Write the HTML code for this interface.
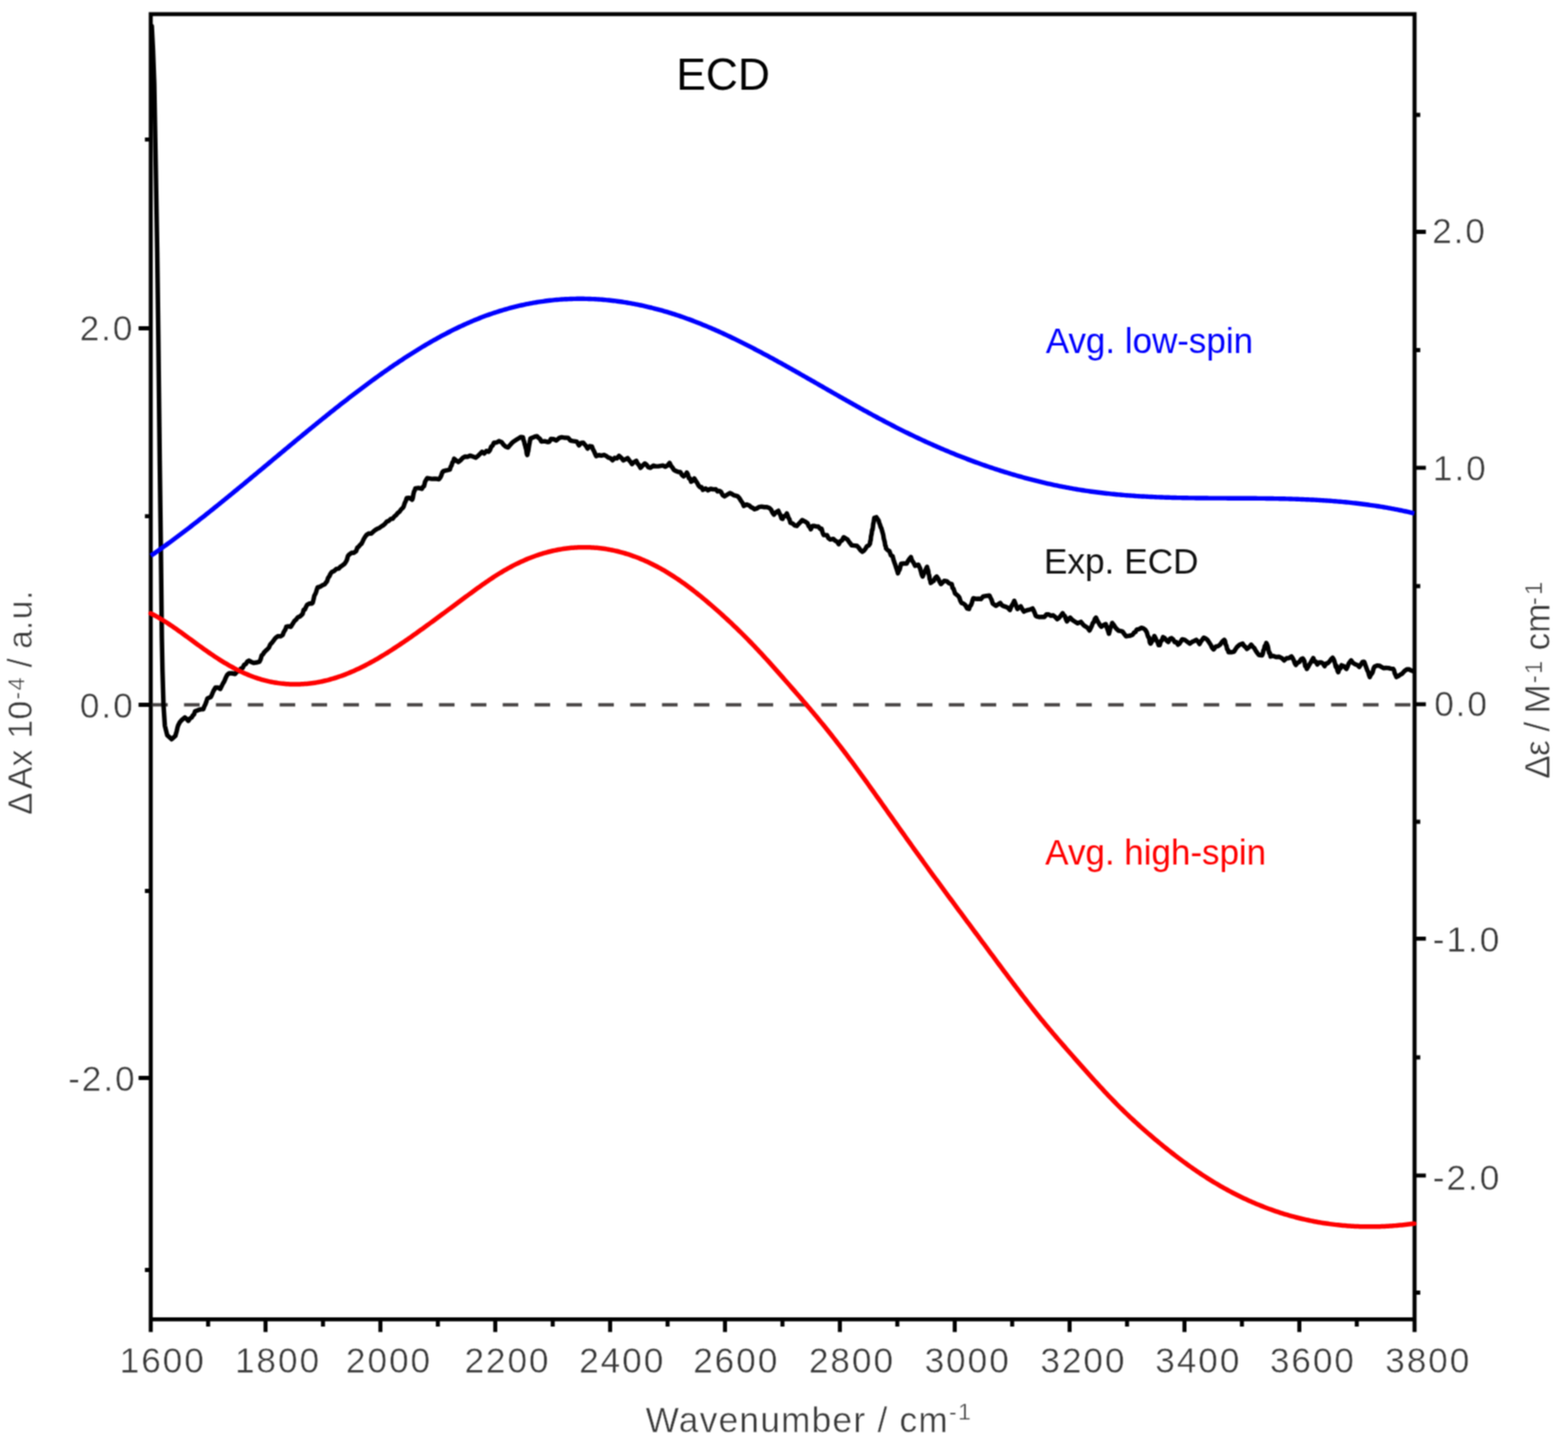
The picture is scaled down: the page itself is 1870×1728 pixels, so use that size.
<!DOCTYPE html>
<html><head><meta charset="utf-8"><title>ECD spectra</title>
<style>html,body{margin:0;padding:0;background:#fff;width:1870px;height:1728px;overflow:hidden}svg{display:block}text{font-family:"Liberation Sans",Arial,Helvetica,sans-serif}.g{fill:#383838;stroke:#fff;stroke-width:0.5px}</style></head><body>
<svg width="1870" height="1728" viewBox="0 0 1870 1728" xmlns="http://www.w3.org/2000/svg">
<defs><filter id="soft" x="0" y="0" width="1870" height="1728" filterUnits="userSpaceOnUse" color-interpolation-filters="sRGB"><feConvolveMatrix order="3" kernelMatrix="1 2 1 2 4 2 1 2 1" divisor="16" edgeMode="duplicate"/></filter></defs>
<g filter="url(#soft)">
<rect width="1870" height="1728" fill="#fff"/>
<path d="M177.40,16.90 H1689.40 M177.40,1573.40 H1689.40 M179.80,16.90 V1573.40 M1687.00,16.90 V1573.40 M179.80,1573.40 V1588.40 M248.20,1573.40 V1581.90 M316.69,1573.40 V1588.40 M385.19,1573.40 V1581.90 M453.68,1573.40 V1588.40 M522.18,1573.40 V1581.90 M590.67,1573.40 V1588.40 M659.17,1573.40 V1581.90 M727.66,1573.40 V1588.40 M796.16,1573.40 V1581.90 M864.65,1573.40 V1588.40 M933.15,1573.40 V1581.90 M1001.65,1573.40 V1588.40 M1070.14,1573.40 V1581.90 M1138.64,1573.40 V1588.40 M1207.13,1573.40 V1581.90 M1275.63,1573.40 V1588.40 M1344.12,1573.40 V1581.90 M1412.62,1573.40 V1588.40 M1481.11,1573.40 V1581.90 M1549.61,1573.40 V1588.40 M1618.10,1573.40 V1581.90 M1687.00,1573.40 V1588.40 M165.30,391.50 H179.80 M165.30,840.50 H179.80 M165.30,1285.50 H179.80 M172.80,166.40 H179.80 M172.80,615.60 H179.80 M172.80,1062.50 H179.80 M172.80,1514.50 H179.80 M1687.00,276.50 H1700.50 M1687.00,557.80 H1700.50 M1687.00,839.80 H1700.50 M1687.00,1119.30 H1700.50 M1687.00,1401.90 H1700.50 M1687.00,137.00 H1693.80 M1687.00,417.50 H1693.80 M1687.00,699.00 H1693.80 M1687.00,980.00 H1693.80 M1687.00,1261.00 H1693.80 M1687.00,1541.50 H1693.80" fill="none" stroke="#000" stroke-width="4.80" stroke-linecap="butt"/>
<path d="M181.5,840.5 H1684.5" stroke="#474444" stroke-width="4" stroke-dasharray="18.6 19.4" fill="none"/>
<path d="M181.00,31.00 L182.50,60.00 L184.00,100.00 L185.80,200.00 L187.50,300.00 L188.80,400.00 L190.50,550.00 L191.80,650.00 L193.00,760.00 L193.80,800.50 L195.00,841.00 L196.60,865.30 L199.40,876.70 L204.70,881.60 L209.20,877.50 L210.00,874.45 L210.80,871.67 L211.60,868.10 L212.40,865.30 L214.45,861.30 L216.50,858.90 L220.50,855.60 L222.55,857.24 L224.60,859.70 L226.60,856.76 L228.60,855.60 L229.97,853.22 L231.33,851.94 L232.70,848.30 L236.70,846.70 L239.55,845.86 L242.40,845.90 L243.60,842.49 L244.80,840.20 L246.05,837.04 L247.30,833.00 L251.30,831.30 L252.40,829.19 L253.50,826.53 L254.60,824.00 L257.00,820.00 L259.85,819.96 L262.70,821.60 L264.30,818.32 L265.90,815.10 L267.50,812.48 L269.10,808.60 L271.15,804.59 L273.20,803.00 L276.85,802.99 L280.50,803.80 L282.90,800.44 L285.30,800.50 L287.35,797.34 L289.40,796.50 L291.27,792.67 L293.15,791.94 L295.02,788.83 L296.90,787.80 L299.70,789.44 L302.50,790.60 L305.95,790.04 L309.40,789.20 L310.80,786.23 L312.20,781.33 L313.60,780.32 L315.00,778.00 L316.87,776.12 L318.73,774.44 L320.60,772.50 L322.43,768.36 L324.27,766.54 L326.10,764.20 L327.97,761.45 L329.83,759.74 L331.70,758.60 L334.45,758.85 L337.20,757.20 L338.25,754.05 L339.30,752.32 L340.35,750.72 L341.40,747.50 L344.15,746.97 L346.90,747.50 L348.30,745.10 L349.70,743.00 L351.10,740.60 L353.18,738.91 L355.25,736.00 L357.32,735.42 L359.40,733.60 L360.80,732.32 L362.20,727.21 L363.60,726.87 L365.00,723.71 L366.40,721.10 L369.15,719.82 L371.90,719.70 L372.90,718.73 L373.90,714.84 L374.90,710.31 L375.90,708.68 L376.90,706.36 L377.90,702.90 L378.90,700.30 L381.67,699.75 L384.43,697.91 L387.20,696.80 L388.60,694.97 L390.00,693.23 L391.40,688.89 L392.80,687.25 L394.20,684.22 L395.60,682.20 L398.37,680.95 L401.13,678.40 L403.90,678.10 L406.20,675.71 L408.50,674.19 L410.80,672.50 L412.20,670.53 L413.60,667.98 L415.00,662.98 L416.40,661.40 L419.17,659.28 L421.93,659.18 L424.70,657.20 L426.26,652.98 L427.82,651.93 L429.39,649.84 L430.95,648.63 L432.51,645.70 L434.07,642.36 L435.64,639.89 L437.20,637.80 L440.00,636.17 L442.80,636.37 L445.60,633.60 L447.82,631.83 L450.04,630.57 L452.26,629.78 L454.48,627.97 L456.70,626.70 L459.02,624.67 L461.33,622.00 L463.65,621.14 L465.97,618.90 L468.28,618.50 L470.60,615.60 L472.54,614.23 L474.48,611.66 L476.42,610.32 L478.36,607.45 L480.30,605.80 L481.50,603.80 L482.70,599.90 L483.90,597.48 L485.10,594.00 L488.35,593.79 L491.60,595.90 L492.36,593.51 L493.12,588.98 L493.88,585.97 L494.64,584.83 L495.40,582.40 L499.25,581.89 L503.10,583.00 L504.38,580.59 L505.66,579.90 L506.94,574.57 L508.22,572.20 L509.50,570.20 L512.32,570.64 L515.14,571.16 L517.96,570.82 L520.78,571.05 L523.60,571.50 L524.90,569.73 L526.20,567.17 L527.50,563.37 L528.80,561.90 L531.37,561.20 L533.93,560.67 L536.50,560.00 L537.52,556.47 L538.54,555.07 L539.56,551.49 L540.58,550.55 L541.60,547.10 L544.15,549.22 L546.70,551.00 L549.27,548.91 L551.83,546.13 L554.40,544.50 L557.62,544.72 L560.85,543.35 L564.07,544.46 L567.30,545.80 L569.85,543.88 L572.40,541.30 L574.98,538.76 L577.55,540.81 L580.12,537.85 L582.70,538.80 L584.30,536.76 L585.90,532.59 L587.50,531.33 L589.10,527.90 L592.10,527.78 L595.10,526.05 L598.10,527.20 L600.67,530.46 L603.23,532.76 L605.80,533.60 L608.35,530.69 L610.90,527.90 L613.47,525.92 L616.03,524.29 L618.60,522.70 L621.15,521.17 L623.70,521.40 L624.35,525.04 L625.00,526.21 L625.65,529.30 L626.30,531.29 L626.95,534.09 L627.60,536.15 L628.25,541.08 L628.90,542.60 L629.44,539.62 L629.99,537.78 L630.53,534.08 L631.07,530.60 L631.61,528.09 L632.16,525.04 L632.70,522.70 L635.27,521.87 L637.83,520.70 L640.40,520.20 L642.13,522.06 L643.87,523.23 L645.60,526.60 L649.45,526.17 L653.30,527.20 L655.20,526.79 L657.10,523.40 L660.30,523.75 L663.50,525.30 L666.70,522.40 L669.90,521.40 L673.75,522.05 L677.60,522.10 L680.20,525.27 L682.80,525.90 L687.90,526.60 L690.50,531.10 L693.05,528.19 L695.60,527.90 L697.30,530.05 L699.00,532.00 L700.70,534.90 L703.30,532.07 L705.90,532.40 L707.17,535.94 L708.45,538.13 L709.73,541.09 L711.00,543.90 L714.10,542.76 L717.20,543.38 L720.30,542.50 L722.85,543.61 L725.40,545.57 L727.95,546.30 L730.50,548.90 L733.07,546.07 L735.63,546.64 L738.20,543.70 L740.80,545.84 L743.40,548.90 L745.95,547.86 L748.50,546.30 L750.20,548.64 L751.90,550.64 L753.60,553.40 L756.20,550.99 L758.80,549.50 L760.50,552.87 L762.20,554.83 L763.90,557.90 L766.45,555.16 L769.00,552.70 L771.17,554.45 L773.33,557.23 L775.50,557.90 L779.30,555.30 L782.12,556.17 L784.94,556.16 L787.76,555.57 L790.58,555.10 L793.40,556.60 L796.00,555.20 L798.60,552.10 L800.30,555.74 L802.00,557.51 L803.70,560.40 L806.27,561.75 L808.83,562.84 L811.40,563.00 L813.30,566.30 L815.20,568.10 L817.15,566.68 L819.10,563.60 L820.38,565.91 L821.65,570.41 L822.93,570.65 L824.20,574.50 L826.15,573.38 L828.10,570.70 L829.80,573.39 L831.50,575.99 L833.20,579.14 L834.90,581.04 L836.60,580.92 L838.30,584.20 L841.38,582.54 L844.46,584.66 L847.54,582.87 L850.62,583.63 L853.70,583.50 L855.76,585.94 L857.82,585.38 L859.88,586.64 L861.94,590.45 L864.00,591.90 L867.20,589.99 L870.40,588.00 L872.72,589.06 L875.04,590.59 L877.36,591.07 L879.68,591.76 L882.00,594.40 L883.70,597.25 L885.40,599.53 L887.10,603.40 L890.30,601.62 L893.50,602.80 L895.63,604.76 L897.77,605.74 L899.90,607.30 L902.50,606.37 L905.10,604.70 L908.30,604.13 L911.50,604.76 L914.70,604.78 L917.90,606.00 L919.60,607.77 L921.30,611.31 L923.00,613.70 L925.60,610.75 L928.20,609.20 L929.48,611.92 L930.75,614.31 L932.02,618.22 L933.30,618.80 L935.00,615.41 L936.70,615.33 L938.40,612.40 L939.45,615.07 L940.50,617.89 L941.55,619.35 L942.60,623.40 L945.17,624.25 L947.73,626.60 L950.30,627.20 L952.43,624.79 L954.57,622.61 L956.70,620.20 L959.90,621.84 L963.10,624.00 L964.40,627.41 L965.70,628.71 L967.00,631.10 L968.90,627.17 L970.80,627.20 L973.37,627.88 L975.93,628.03 L978.50,631.10 L979.80,630.51 L981.10,635.29 L982.40,638.10 L986.20,638.10 L988.15,641.90 L990.10,643.30 L993.90,642.60 L996.03,644.78 L998.17,645.81 L1000.30,649.00 L1002.23,645.39 L1004.17,644.48 L1006.10,640.70 L1010.60,643.30 L1012.30,645.78 L1014.00,648.01 L1015.70,650.30 L1018.90,650.60 L1022.10,651.00 L1024.27,653.37 L1026.43,656.39 L1028.60,658.00 L1030.38,656.58 L1032.16,654.35 L1033.94,651.30 L1035.72,650.78 L1037.50,648.40 L1037.93,645.22 L1038.37,644.25 L1038.80,639.56 L1039.23,638.01 L1039.67,635.56 L1040.10,631.81 L1040.53,631.98 L1040.97,629.18 L1041.40,624.88 L1041.83,623.43 L1042.27,620.51 L1042.70,617.60 L1045.25,616.85 L1047.80,620.80 L1048.65,623.59 L1049.50,625.88 L1050.35,628.57 L1051.20,630.10 L1052.05,633.39 L1052.90,636.20 L1053.46,638.61 L1054.01,642.41 L1054.57,644.22 L1055.13,646.48 L1055.69,650.43 L1056.24,651.13 L1056.80,654.20 L1058.72,656.10 L1060.65,657.06 L1062.58,662.36 L1064.50,663.20 L1065.30,666.63 L1066.10,669.15 L1066.90,671.49 L1067.70,673.55 L1068.50,676.21 L1069.30,678.35 L1070.10,680.95 L1070.90,683.70 L1071.88,680.85 L1072.85,679.26 L1073.83,675.50 L1074.80,672.10 L1078.00,672.05 L1081.20,672.10 L1082.90,669.01 L1084.60,666.40 L1086.30,664.40 L1087.58,668.42 L1088.85,670.01 L1090.12,672.19 L1091.40,674.70 L1095.30,673.40 L1096.32,675.91 L1097.34,678.04 L1098.36,681.80 L1099.38,685.47 L1100.40,687.50 L1101.70,684.27 L1103.00,681.55 L1104.30,678.68 L1105.60,676.00 L1106.23,678.84 L1106.86,680.05 L1107.49,684.02 L1108.11,686.20 L1108.74,690.51 L1109.37,691.76 L1110.00,695.20 L1111.78,693.79 L1113.55,692.72 L1115.32,689.14 L1117.10,687.50 L1118.80,689.96 L1120.50,693.67 L1122.20,696.50 L1124.15,694.60 L1126.10,692.70 L1129.10,693.14 L1132.10,695.78 L1135.10,696.70 L1136.07,701.24 L1137.05,701.92 L1138.03,704.69 L1139.00,707.60 L1142.80,710.80 L1144.10,712.63 L1145.40,716.62 L1146.70,719.10 L1148.95,719.75 L1151.20,721.65 L1153.45,725.58 L1155.70,726.20 L1156.72,722.83 L1157.74,722.05 L1158.76,719.89 L1159.78,716.19 L1160.80,713.40 L1164.00,714.20 L1167.20,714.00 L1169.80,714.46 L1172.40,711.40 L1176.20,710.62 L1180.00,710.20 L1181.30,712.87 L1182.60,715.38 L1183.90,719.80 L1187.80,722.40 L1190.35,720.79 L1192.90,719.10 L1195.03,721.93 L1197.17,722.96 L1199.30,723.60 L1201.85,724.70 L1204.40,727.50 L1205.70,724.01 L1207.00,721.60 L1208.30,719.59 L1209.60,716.60 L1210.87,719.62 L1212.13,723.19 L1213.40,726.20 L1217.30,723.00 L1219.20,726.47 L1221.10,729.40 L1223.67,728.18 L1226.25,727.46 L1228.83,726.74 L1231.40,725.60 L1232.68,727.92 L1233.95,730.85 L1235.22,734.48 L1236.50,735.20 L1239.50,735.93 L1242.50,735.65 L1245.50,735.80 L1248.05,732.68 L1250.60,732.60 L1253.17,734.40 L1255.75,733.75 L1258.33,735.68 L1260.90,738.40 L1263.03,736.80 L1265.17,734.30 L1267.30,731.30 L1268.60,733.59 L1269.90,734.61 L1271.20,738.24 L1272.50,741.00 L1274.40,738.14 L1276.30,736.50 L1278.85,739.32 L1281.40,741.00 L1285.25,743.33 L1289.10,741.60 L1291.05,744.05 L1293.00,746.10 L1295.13,747.33 L1297.27,748.91 L1299.40,751.90 L1300.68,749.28 L1301.97,746.61 L1303.25,743.16 L1304.53,741.74 L1305.82,738.03 L1307.10,736.50 L1308.70,740.23 L1310.30,742.91 L1311.90,745.65 L1313.50,747.40 L1316.10,745.37 L1318.70,744.20 L1319.65,747.54 L1320.60,749.83 L1321.55,752.48 L1322.50,755.70 L1323.28,752.83 L1324.06,749.41 L1324.84,746.72 L1325.62,746.17 L1326.40,742.90 L1328.10,745.06 L1329.80,747.76 L1331.50,749.90 L1334.05,752.10 L1336.60,752.50 L1338.73,753.07 L1340.87,756.06 L1343.00,758.90 L1345.57,758.42 L1348.13,757.99 L1350.70,757.00 L1352.43,754.53 L1354.17,753.66 L1355.90,750.60 L1358.47,750.36 L1361.03,748.64 L1363.60,749.30 L1365.65,750.81 L1367.70,754.00 L1368.60,757.42 L1369.50,759.82 L1370.40,760.39 L1371.30,766.01 L1372.20,767.50 L1373.70,765.04 L1375.20,762.71 L1376.70,758.50 L1377.97,760.88 L1379.25,763.68 L1380.53,765.66 L1381.80,769.40 L1383.10,769.28 L1384.40,764.44 L1385.70,763.63 L1387.00,759.80 L1389.13,761.15 L1391.27,763.81 L1393.40,765.60 L1395.30,761.85 L1397.20,761.10 L1399.12,762.68 L1401.05,765.84 L1402.98,765.75 L1404.90,768.80 L1406.60,767.63 L1408.30,764.84 L1410.00,762.40 L1413.00,763.16 L1416.00,765.35 L1419.00,767.50 L1421.57,765.59 L1424.13,764.46 L1426.70,763.00 L1428.65,765.07 L1430.60,768.10 L1432.30,764.79 L1434.00,762.69 L1435.70,760.40 L1437.83,761.41 L1439.97,763.11 L1442.10,766.20 L1443.83,768.92 L1445.57,772.53 L1447.30,774.50 L1449.87,771.22 L1452.43,770.70 L1455.00,768.80 L1457.55,765.32 L1460.10,763.00 L1460.95,764.59 L1461.80,768.70 L1462.65,769.93 L1463.50,774.22 L1464.35,774.63 L1465.20,777.80 L1468.45,777.80 L1471.70,777.10 L1473.60,774.00 L1475.50,771.30 L1478.70,768.72 L1481.90,767.50 L1483.63,770.16 L1485.37,771.63 L1487.10,773.90 L1489.65,771.89 L1492.20,768.80 L1494.00,771.20 L1495.80,772.70 L1497.60,776.03 L1499.40,778.61 L1501.20,781.00 L1505.00,781.60 L1505.87,780.00 L1506.73,775.85 L1507.60,774.16 L1508.47,770.18 L1509.33,769.85 L1510.20,766.80 L1511.05,768.51 L1511.90,770.54 L1512.75,774.80 L1513.60,778.53 L1514.45,778.84 L1515.30,782.90 L1518.50,782.22 L1521.70,783.50 L1525.80,783.30 L1528.65,784.78 L1531.50,787.60 L1534.40,784.98 L1537.30,784.74 L1540.20,782.80 L1541.53,784.60 L1542.85,787.20 L1544.17,790.90 L1545.50,792.90 L1547.55,790.30 L1549.60,789.44 L1551.65,786.25 L1553.70,785.20 L1554.66,786.61 L1555.62,788.55 L1556.58,794.38 L1557.54,794.91 L1558.50,797.70 L1560.04,795.34 L1561.58,792.51 L1563.12,790.10 L1564.66,787.42 L1566.20,784.80 L1567.80,789.08 L1569.40,789.00 L1571.00,792.50 L1573.40,789.85 L1575.80,790.00 L1577.75,791.29 L1579.70,794.40 L1581.62,791.15 L1583.55,790.97 L1585.48,788.99 L1587.40,786.20 L1589.30,784.30 L1590.26,785.91 L1591.21,787.99 L1592.17,791.39 L1593.13,795.44 L1594.09,794.12 L1595.04,799.60 L1596.00,801.60 L1597.30,797.90 L1598.60,797.07 L1599.90,793.40 L1602.80,794.58 L1605.70,797.70 L1607.12,794.92 L1608.55,791.29 L1609.98,789.25 L1611.40,787.60 L1613.83,790.77 L1616.25,792.19 L1618.67,793.01 L1621.10,795.30 L1623.00,792.45 L1624.90,789.46 L1626.80,789.10 L1627.77,791.36 L1628.74,794.30 L1629.71,796.87 L1630.69,799.47 L1631.66,801.16 L1632.63,804.73 L1633.60,807.40 L1634.74,804.87 L1635.88,803.56 L1637.02,801.58 L1638.16,797.28 L1639.30,794.90 L1642.20,793.71 L1645.10,793.90 L1647.50,795.29 L1649.90,796.80 L1652.80,796.48 L1655.70,796.58 L1658.60,797.42 L1661.50,797.70 L1662.45,799.19 L1663.40,803.10 L1664.35,804.88 L1665.30,807.40 L1667.57,806.33 L1669.83,804.64 L1672.10,803.50 L1674.95,800.20 L1677.80,798.20 L1680.37,798.15 L1682.93,799.59 L1685.50,800.60" fill="none" stroke="#000" stroke-width="5.4" stroke-linejoin="round" stroke-linecap="round"/>
<path d="M179.70,731.43 L181.70,732.44 L183.70,733.49 L185.70,734.57 L187.70,735.69 L189.70,736.84 L191.70,738.03 L193.70,739.24 L195.70,740.48 L197.70,741.75 L199.70,743.04 L201.70,744.35 L203.70,745.69 L205.70,747.05 L207.70,748.42 L209.70,749.81 L211.70,751.22 L213.70,752.64 L215.70,754.07 L217.70,755.51 L219.70,756.96 L221.70,758.42 L223.70,759.88 L225.70,761.35 L227.70,762.82 L229.70,764.29 L231.70,765.75 L233.70,767.22 L235.70,768.68 L237.70,770.13 L239.70,771.57 L241.70,773.01 L243.70,774.43 L245.70,775.84 L247.70,777.24 L249.70,778.62 L251.70,779.99 L253.70,781.34 L255.70,782.68 L257.70,783.99 L259.70,785.29 L261.70,786.57 L263.70,787.83 L265.70,789.06 L267.70,790.28 L269.70,791.47 L271.70,792.65 L273.70,793.79 L275.70,794.92 L277.70,796.02 L279.70,797.09 L281.70,798.14 L283.70,799.15 L285.70,800.15 L287.70,801.11 L289.70,802.04 L291.70,802.95 L293.70,803.82 L295.70,804.66 L297.70,805.47 L299.70,806.25 L301.70,807.00 L303.70,807.72 L305.70,808.41 L307.70,809.06 L309.70,809.69 L311.70,810.29 L313.70,810.86 L315.70,811.39 L317.70,811.90 L319.70,812.38 L321.70,812.82 L323.70,813.24 L325.70,813.63 L327.70,813.99 L329.70,814.32 L331.70,814.62 L333.70,814.90 L335.70,815.14 L337.70,815.35 L339.70,815.54 L341.70,815.70 L343.70,815.83 L345.70,815.93 L347.70,816.01 L349.70,816.05 L351.70,816.07 L353.70,816.06 L355.70,816.03 L357.70,815.96 L359.70,815.87 L361.70,815.75 L363.70,815.61 L365.70,815.43 L367.70,815.23 L369.70,815.01 L371.70,814.76 L373.70,814.48 L375.70,814.17 L377.70,813.84 L379.70,813.48 L381.70,813.10 L383.70,812.69 L385.70,812.26 L387.70,811.79 L389.70,811.31 L391.70,810.80 L393.70,810.26 L395.70,809.70 L397.70,809.11 L399.70,808.50 L401.70,807.87 L403.70,807.21 L405.70,806.52 L407.70,805.81 L409.70,805.08 L411.70,804.32 L413.70,803.54 L415.70,802.73 L417.70,801.90 L419.70,801.05 L421.70,800.17 L423.70,799.28 L425.70,798.36 L427.70,797.42 L429.70,796.45 L431.70,795.47 L433.70,794.47 L435.70,793.44 L437.70,792.40 L439.70,791.34 L441.70,790.26 L443.70,789.16 L445.70,788.05 L447.70,786.91 L449.70,785.76 L451.70,784.60 L453.70,783.42 L455.70,782.22 L457.70,781.01 L459.70,779.78 L461.70,778.54 L463.70,777.28 L465.70,776.01 L467.70,774.73 L469.70,773.43 L471.70,772.13 L473.70,770.81 L475.70,769.48 L477.70,768.14 L479.70,766.79 L481.70,765.43 L483.70,764.05 L485.70,762.67 L487.70,761.29 L489.70,759.89 L491.70,758.48 L493.70,757.07 L495.70,755.65 L497.70,754.23 L499.70,752.79 L501.70,751.36 L503.70,749.91 L505.70,748.47 L507.70,747.01 L509.70,745.56 L511.70,744.10 L513.70,742.63 L515.70,741.17 L517.70,739.70 L519.70,738.23 L521.70,736.75 L523.70,735.28 L525.70,733.80 L527.70,732.32 L529.70,730.85 L531.70,729.37 L533.70,727.88 L535.70,726.40 L537.70,724.92 L539.70,723.44 L541.70,721.95 L543.70,720.47 L545.70,718.99 L547.70,717.51 L549.70,716.02 L551.70,714.54 L553.70,713.06 L555.70,711.58 L557.70,710.11 L559.70,708.63 L561.70,707.16 L563.70,705.70 L565.70,704.24 L567.70,702.78 L569.70,701.34 L571.70,699.90 L573.70,698.48 L575.70,697.06 L577.70,695.66 L579.70,694.27 L581.70,692.90 L583.70,691.54 L585.70,690.20 L587.70,688.87 L589.70,687.56 L591.70,686.28 L593.70,685.01 L595.70,683.77 L597.70,682.54 L599.70,681.35 L601.70,680.17 L603.70,679.02 L605.70,677.90 L607.70,676.80 L609.70,675.72 L611.70,674.67 L613.70,673.65 L615.70,672.64 L617.70,671.67 L619.70,670.71 L621.70,669.79 L623.70,668.88 L625.70,668.00 L627.70,667.15 L629.70,666.32 L631.70,665.51 L633.70,664.73 L635.70,663.97 L637.70,663.24 L639.70,662.53 L641.70,661.85 L643.70,661.19 L645.70,660.56 L647.70,659.95 L649.70,659.36 L651.70,658.80 L653.70,658.26 L655.70,657.75 L657.70,657.26 L659.70,656.80 L661.70,656.36 L663.70,655.94 L665.70,655.55 L667.70,655.19 L669.70,654.85 L671.70,654.53 L673.70,654.24 L675.70,653.97 L677.70,653.73 L679.70,653.51 L681.70,653.31 L683.70,653.14 L685.70,653.00 L687.70,652.88 L689.70,652.78 L691.70,652.71 L693.70,652.66 L695.70,652.64 L697.70,652.64 L699.70,652.66 L701.70,652.71 L703.70,652.79 L705.70,652.89 L707.70,653.01 L709.70,653.16 L711.70,653.33 L713.70,653.53 L715.70,653.75 L717.70,653.99 L719.70,654.26 L721.70,654.56 L723.70,654.88 L725.70,655.22 L727.70,655.59 L729.70,655.98 L731.70,656.39 L733.70,656.83 L735.70,657.30 L737.70,657.79 L739.70,658.30 L741.70,658.84 L743.70,659.40 L745.70,659.99 L747.70,660.60 L749.70,661.24 L751.70,661.90 L753.70,662.58 L755.70,663.29 L757.70,664.02 L759.70,664.78 L761.70,665.56 L763.70,666.37 L765.70,667.20 L767.70,668.06 L769.70,668.93 L771.70,669.84 L773.70,670.77 L775.70,671.72 L777.70,672.70 L779.70,673.70 L781.70,674.72 L783.70,675.77 L785.70,676.85 L787.70,677.95 L789.70,679.07 L791.70,680.22 L793.70,681.39 L795.70,682.58 L797.70,683.81 L799.70,685.05 L801.70,686.32 L803.70,687.61 L805.70,688.93 L807.70,690.27 L809.70,691.63 L811.70,693.02 L813.70,694.42 L815.70,695.85 L817.70,697.30 L819.70,698.77 L821.70,700.26 L823.70,701.77 L825.70,703.30 L827.70,704.85 L829.70,706.41 L831.70,708.00 L833.70,709.60 L835.70,711.22 L837.70,712.85 L839.70,714.50 L841.70,716.17 L843.70,717.85 L845.70,719.55 L847.70,721.27 L849.70,722.99 L851.70,724.73 L853.70,726.49 L855.70,728.25 L857.70,730.03 L859.70,731.83 L861.70,733.63 L863.70,735.45 L865.70,737.28 L867.70,739.13 L869.70,740.99 L871.70,742.86 L873.70,744.75 L875.70,746.65 L877.70,748.57 L879.70,750.50 L881.70,752.45 L883.70,754.41 L885.70,756.39 L887.70,758.39 L889.70,760.40 L891.70,762.42 L893.70,764.46 L895.70,766.52 L897.70,768.60 L899.70,770.69 L901.70,772.80 L903.70,774.93 L905.70,777.07 L907.70,779.22 L909.70,781.39 L911.70,783.57 L913.70,785.76 L915.70,787.96 L917.70,790.18 L919.70,792.40 L921.70,794.64 L923.70,796.88 L925.70,799.13 L927.70,801.38 L929.70,803.65 L931.70,805.91 L933.70,808.18 L935.70,810.46 L937.70,812.74 L939.70,815.02 L941.70,817.30 L943.70,819.59 L945.70,821.88 L947.70,824.17 L949.70,826.46 L951.70,828.76 L953.70,831.07 L955.70,833.38 L957.70,835.70 L959.70,838.03 L961.70,840.37 L963.70,842.71 L965.70,845.07 L967.70,847.43 L969.70,849.81 L971.70,852.19 L973.70,854.59 L975.70,857.01 L977.70,859.43 L979.70,861.87 L981.70,864.33 L983.70,866.80 L985.70,869.28 L987.70,871.78 L989.70,874.29 L991.70,876.82 L993.70,879.36 L995.70,881.92 L997.70,884.48 L999.70,887.07 L1001.70,889.66 L1003.70,892.27 L1005.70,894.90 L1007.70,897.53 L1009.70,900.18 L1011.70,902.85 L1013.70,905.53 L1015.70,908.22 L1017.70,910.92 L1019.70,913.64 L1021.70,916.37 L1023.70,919.11 L1025.70,921.86 L1027.70,924.62 L1029.70,927.39 L1031.70,930.17 L1033.70,932.96 L1035.70,935.76 L1037.70,938.56 L1039.70,941.36 L1041.70,944.17 L1043.70,946.99 L1045.70,949.80 L1047.70,952.62 L1049.70,955.44 L1051.70,958.26 L1053.70,961.09 L1055.70,963.91 L1057.70,966.74 L1059.70,969.56 L1061.70,972.39 L1063.70,975.21 L1065.70,978.03 L1067.70,980.86 L1069.70,983.68 L1071.70,986.50 L1073.70,989.32 L1075.70,992.14 L1077.70,994.95 L1079.70,997.77 L1081.70,1000.58 L1083.70,1003.39 L1085.70,1006.19 L1087.70,1008.99 L1089.70,1011.79 L1091.70,1014.58 L1093.70,1017.37 L1095.70,1020.16 L1097.70,1022.94 L1099.70,1025.72 L1101.70,1028.49 L1103.70,1031.25 L1105.70,1034.01 L1107.70,1036.77 L1109.70,1039.52 L1111.70,1042.27 L1113.70,1045.01 L1115.70,1047.75 L1117.70,1050.48 L1119.70,1053.22 L1121.70,1055.94 L1123.70,1058.67 L1125.70,1061.39 L1127.70,1064.11 L1129.70,1066.83 L1131.70,1069.54 L1133.70,1072.25 L1135.70,1074.96 L1137.70,1077.67 L1139.70,1080.37 L1141.70,1083.08 L1143.70,1085.78 L1145.70,1088.48 L1147.70,1091.18 L1149.70,1093.87 L1151.70,1096.57 L1153.70,1099.27 L1155.70,1101.96 L1157.70,1104.66 L1159.70,1107.36 L1161.70,1110.05 L1163.70,1112.75 L1165.70,1115.44 L1167.70,1118.14 L1169.70,1120.83 L1171.70,1123.53 L1173.70,1126.23 L1175.70,1128.93 L1177.70,1131.63 L1179.70,1134.33 L1181.70,1137.03 L1183.70,1139.73 L1185.70,1142.43 L1187.70,1145.12 L1189.70,1147.81 L1191.70,1150.50 L1193.70,1153.19 L1195.70,1155.87 L1197.70,1158.55 L1199.70,1161.22 L1201.70,1163.89 L1203.70,1166.55 L1205.70,1169.21 L1207.70,1171.86 L1209.70,1174.50 L1211.70,1177.14 L1213.70,1179.76 L1215.70,1182.38 L1217.70,1184.99 L1219.70,1187.59 L1221.70,1190.17 L1223.70,1192.75 L1225.70,1195.32 L1227.70,1197.88 L1229.70,1200.42 L1231.70,1202.95 L1233.70,1205.47 L1235.70,1207.97 L1237.70,1210.46 L1239.70,1212.94 L1241.70,1215.40 L1243.70,1217.84 L1245.70,1220.27 L1247.70,1222.69 L1249.70,1225.08 L1251.70,1227.47 L1253.70,1229.84 L1255.70,1232.19 L1257.70,1234.54 L1259.70,1236.87 L1261.70,1239.20 L1263.70,1241.51 L1265.70,1243.82 L1267.70,1246.12 L1269.70,1248.41 L1271.70,1250.69 L1273.70,1252.98 L1275.70,1255.25 L1277.70,1257.53 L1279.70,1259.80 L1281.70,1262.07 L1283.70,1264.34 L1285.70,1266.61 L1287.70,1268.87 L1289.70,1271.13 L1291.70,1273.39 L1293.70,1275.64 L1295.70,1277.89 L1297.70,1280.13 L1299.70,1282.36 L1301.70,1284.59 L1303.70,1286.81 L1305.70,1289.01 L1307.70,1291.21 L1309.70,1293.40 L1311.70,1295.58 L1313.70,1297.74 L1315.70,1299.90 L1317.70,1302.04 L1319.70,1304.16 L1321.70,1306.27 L1323.70,1308.37 L1325.70,1310.45 L1327.70,1312.51 L1329.70,1314.55 L1331.70,1316.58 L1333.70,1318.59 L1335.70,1320.58 L1337.70,1322.55 L1339.70,1324.51 L1341.70,1326.45 L1343.70,1328.37 L1345.70,1330.27 L1347.70,1332.16 L1349.70,1334.04 L1351.70,1335.89 L1353.70,1337.74 L1355.70,1339.56 L1357.70,1341.38 L1359.70,1343.18 L1361.70,1344.96 L1363.70,1346.73 L1365.70,1348.49 L1367.70,1350.23 L1369.70,1351.97 L1371.70,1353.68 L1373.70,1355.39 L1375.70,1357.09 L1377.70,1358.77 L1379.70,1360.44 L1381.70,1362.10 L1383.70,1363.75 L1385.70,1365.39 L1387.70,1367.02 L1389.70,1368.63 L1391.70,1370.24 L1393.70,1371.83 L1395.70,1373.41 L1397.70,1374.98 L1399.70,1376.53 L1401.70,1378.08 L1403.70,1379.61 L1405.70,1381.13 L1407.70,1382.63 L1409.70,1384.12 L1411.70,1385.60 L1413.70,1387.07 L1415.70,1388.52 L1417.70,1389.96 L1419.70,1391.38 L1421.70,1392.79 L1423.70,1394.19 L1425.70,1395.57 L1427.70,1396.94 L1429.70,1398.29 L1431.70,1399.63 L1433.70,1400.96 L1435.70,1402.26 L1437.70,1403.56 L1439.70,1404.84 L1441.70,1406.10 L1443.70,1407.35 L1445.70,1408.58 L1447.70,1409.80 L1449.70,1411.00 L1451.70,1412.19 L1453.70,1413.36 L1455.70,1414.52 L1457.70,1415.66 L1459.70,1416.78 L1461.70,1417.90 L1463.70,1418.99 L1465.70,1420.08 L1467.70,1421.14 L1469.70,1422.20 L1471.70,1423.23 L1473.70,1424.26 L1475.70,1425.26 L1477.70,1426.26 L1479.70,1427.24 L1481.70,1428.20 L1483.70,1429.15 L1485.70,1430.09 L1487.70,1431.01 L1489.70,1431.92 L1491.70,1432.81 L1493.70,1433.69 L1495.70,1434.56 L1497.70,1435.41 L1499.70,1436.24 L1501.70,1437.07 L1503.70,1437.88 L1505.70,1438.67 L1507.70,1439.45 L1509.70,1440.22 L1511.70,1440.97 L1513.70,1441.71 L1515.70,1442.44 L1517.70,1443.15 L1519.70,1443.85 L1521.70,1444.54 L1523.70,1445.21 L1525.70,1445.87 L1527.70,1446.51 L1529.70,1447.14 L1531.70,1447.76 L1533.70,1448.37 L1535.70,1448.96 L1537.70,1449.54 L1539.70,1450.11 L1541.70,1450.66 L1543.70,1451.20 L1545.70,1451.73 L1547.70,1452.24 L1549.70,1452.74 L1551.70,1453.23 L1553.70,1453.71 L1555.70,1454.17 L1557.70,1454.62 L1559.70,1455.06 L1561.70,1455.48 L1563.70,1455.89 L1565.70,1456.29 L1567.70,1456.68 L1569.70,1457.06 L1571.70,1457.42 L1573.70,1457.77 L1575.70,1458.11 L1577.70,1458.44 L1579.70,1458.75 L1581.70,1459.05 L1583.70,1459.34 L1585.70,1459.62 L1587.70,1459.89 L1589.70,1460.14 L1591.70,1460.38 L1593.70,1460.62 L1595.70,1460.83 L1597.70,1461.04 L1599.70,1461.24 L1601.70,1461.42 L1603.70,1461.59 L1605.70,1461.75 L1607.70,1461.90 L1609.70,1462.04 L1611.70,1462.17 L1613.70,1462.28 L1615.70,1462.39 L1617.70,1462.48 L1619.70,1462.56 L1621.70,1462.63 L1623.70,1462.69 L1625.70,1462.74 L1627.70,1462.78 L1629.70,1462.80 L1631.70,1462.82 L1633.70,1462.83 L1635.70,1462.82 L1637.70,1462.80 L1639.70,1462.77 L1641.70,1462.74 L1643.70,1462.69 L1645.70,1462.63 L1647.70,1462.56 L1649.70,1462.48 L1651.70,1462.39 L1653.70,1462.29 L1655.70,1462.17 L1657.70,1462.05 L1659.70,1461.92 L1661.70,1461.78 L1663.70,1461.63 L1665.70,1461.46 L1667.70,1461.29 L1669.70,1461.11 L1671.70,1460.92 L1673.70,1460.72 L1675.70,1460.50 L1677.70,1460.28 L1679.70,1460.05 L1681.70,1459.81 L1683.70,1459.56 L1685.70,1459.30 L1686.60,1459.18" fill="none" stroke="#ff0000" stroke-width="5.5" stroke-linejoin="round" stroke-linecap="round"/>
<path d="M180.00,662.71 L182.00,661.33 L184.00,659.94 L186.00,658.53 L188.00,657.13 L190.00,655.71 L192.00,654.29 L194.00,652.86 L196.00,651.42 L198.00,649.97 L200.00,648.52 L202.00,647.06 L204.00,645.59 L206.00,644.12 L208.00,642.64 L210.00,641.15 L212.00,639.66 L214.00,638.16 L216.00,636.66 L218.00,635.15 L220.00,633.63 L222.00,632.11 L224.00,630.58 L226.00,629.05 L228.00,627.51 L230.00,625.97 L232.00,624.42 L234.00,622.86 L236.00,621.30 L238.00,619.74 L240.00,618.17 L242.00,616.59 L244.00,615.02 L246.00,613.43 L248.00,611.85 L250.00,610.26 L252.00,608.66 L254.00,607.06 L256.00,605.46 L258.00,603.85 L260.00,602.24 L262.00,600.63 L264.00,599.01 L266.00,597.39 L268.00,595.76 L270.00,594.14 L272.00,592.51 L274.00,590.87 L276.00,589.24 L278.00,587.60 L280.00,585.96 L282.00,584.32 L284.00,582.67 L286.00,581.02 L288.00,579.37 L290.00,577.72 L292.00,576.07 L294.00,574.41 L296.00,572.76 L298.00,571.10 L300.00,569.44 L302.00,567.78 L304.00,566.12 L306.00,564.46 L308.00,562.79 L310.00,561.13 L312.00,559.46 L314.00,557.80 L316.00,556.13 L318.00,554.46 L320.00,552.80 L322.00,551.13 L324.00,549.46 L326.00,547.79 L328.00,546.13 L330.00,544.46 L332.00,542.80 L334.00,541.13 L336.00,539.46 L338.00,537.80 L340.00,536.14 L342.00,534.48 L344.00,532.81 L346.00,531.15 L348.00,529.50 L350.00,527.84 L352.00,526.18 L354.00,524.53 L356.00,522.88 L358.00,521.23 L360.00,519.58 L362.00,517.93 L364.00,516.29 L366.00,514.65 L368.00,513.01 L370.00,511.37 L372.00,509.74 L374.00,508.11 L376.00,506.48 L378.00,504.86 L380.00,503.23 L382.00,501.62 L384.00,500.00 L386.00,498.39 L388.00,496.78 L390.00,495.18 L392.00,493.58 L394.00,491.98 L396.00,490.39 L398.00,488.80 L400.00,487.22 L402.00,485.64 L404.00,484.06 L406.00,482.49 L408.00,480.92 L410.00,479.36 L412.00,477.81 L414.00,476.26 L416.00,474.71 L418.00,473.17 L420.00,471.64 L422.00,470.11 L424.00,468.58 L426.00,467.06 L428.00,465.55 L430.00,464.05 L432.00,462.55 L434.00,461.05 L436.00,459.56 L438.00,458.08 L440.00,456.61 L442.00,455.14 L444.00,453.68 L446.00,452.22 L448.00,450.78 L450.00,449.34 L452.00,447.90 L454.00,446.48 L456.00,445.06 L458.00,443.65 L460.00,442.24 L462.00,440.85 L464.00,439.46 L466.00,438.08 L468.00,436.71 L470.00,435.35 L472.00,433.99 L474.00,432.65 L476.00,431.31 L478.00,429.98 L480.00,428.66 L482.00,427.35 L484.00,426.04 L486.00,424.75 L488.00,423.47 L490.00,422.19 L492.00,420.93 L494.00,419.67 L496.00,418.43 L498.00,417.19 L500.00,415.96 L502.00,414.75 L504.00,413.54 L506.00,412.34 L508.00,411.16 L510.00,409.98 L512.00,408.82 L514.00,407.67 L516.00,406.52 L518.00,405.39 L520.00,404.27 L522.00,403.16 L524.00,402.06 L526.00,400.98 L528.00,399.90 L530.00,398.84 L532.00,397.78 L534.00,396.74 L536.00,395.72 L538.00,394.70 L540.00,393.70 L542.00,392.70 L544.00,391.72 L546.00,390.76 L548.00,389.80 L550.00,388.86 L552.00,387.93 L554.00,387.02 L556.00,386.12 L558.00,385.23 L560.00,384.35 L562.00,383.49 L564.00,382.64 L566.00,381.80 L568.00,380.98 L570.00,380.17 L572.00,379.38 L574.00,378.60 L576.00,377.83 L578.00,377.08 L580.00,376.34 L582.00,375.62 L584.00,374.91 L586.00,374.21 L588.00,373.53 L590.00,372.86 L592.00,372.20 L594.00,371.56 L596.00,370.93 L598.00,370.32 L600.00,369.72 L602.00,369.13 L604.00,368.56 L606.00,368.00 L608.00,367.45 L610.00,366.92 L612.00,366.40 L614.00,365.89 L616.00,365.40 L618.00,364.92 L620.00,364.45 L622.00,364.00 L624.00,363.56 L626.00,363.13 L628.00,362.72 L630.00,362.32 L632.00,361.93 L634.00,361.56 L636.00,361.19 L638.00,360.85 L640.00,360.51 L642.00,360.19 L644.00,359.88 L646.00,359.58 L648.00,359.30 L650.00,359.03 L652.00,358.77 L654.00,358.53 L656.00,358.30 L658.00,358.08 L660.00,357.87 L662.00,357.68 L664.00,357.50 L666.00,357.33 L668.00,357.17 L670.00,357.03 L672.00,356.90 L674.00,356.78 L676.00,356.68 L678.00,356.58 L680.00,356.50 L682.00,356.44 L684.00,356.38 L686.00,356.34 L688.00,356.31 L690.00,356.29 L692.00,356.28 L694.00,356.29 L696.00,356.31 L698.00,356.34 L700.00,356.38 L702.00,356.43 L704.00,356.50 L706.00,356.58 L708.00,356.67 L710.00,356.78 L712.00,356.89 L714.00,357.02 L716.00,357.16 L718.00,357.31 L720.00,357.47 L722.00,357.65 L724.00,357.83 L726.00,358.03 L728.00,358.24 L730.00,358.46 L732.00,358.70 L734.00,358.94 L736.00,359.20 L738.00,359.47 L740.00,359.75 L742.00,360.04 L744.00,360.35 L746.00,360.66 L748.00,360.99 L750.00,361.33 L752.00,361.68 L754.00,362.04 L756.00,362.41 L758.00,362.79 L760.00,363.19 L762.00,363.60 L764.00,364.01 L766.00,364.44 L768.00,364.88 L770.00,365.33 L772.00,365.80 L774.00,366.27 L776.00,366.75 L778.00,367.25 L780.00,367.76 L782.00,368.28 L784.00,368.80 L786.00,369.34 L788.00,369.90 L790.00,370.46 L792.00,371.03 L794.00,371.61 L796.00,372.21 L798.00,372.81 L800.00,373.43 L802.00,374.06 L804.00,374.69 L806.00,375.34 L808.00,376.00 L810.00,376.67 L812.00,377.35 L814.00,378.04 L816.00,378.74 L818.00,379.45 L820.00,380.18 L822.00,380.91 L824.00,381.65 L826.00,382.40 L828.00,383.17 L830.00,383.94 L832.00,384.72 L834.00,385.52 L836.00,386.32 L838.00,387.13 L840.00,387.95 L842.00,388.78 L844.00,389.62 L846.00,390.47 L848.00,391.33 L850.00,392.19 L852.00,393.06 L854.00,393.95 L856.00,394.84 L858.00,395.74 L860.00,396.64 L862.00,397.56 L864.00,398.48 L866.00,399.41 L868.00,400.35 L870.00,401.29 L872.00,402.24 L874.00,403.20 L876.00,404.17 L878.00,405.14 L880.00,406.12 L882.00,407.10 L884.00,408.10 L886.00,409.10 L888.00,410.10 L890.00,411.11 L892.00,412.13 L894.00,413.15 L896.00,414.18 L898.00,415.21 L900.00,416.25 L902.00,417.29 L904.00,418.34 L906.00,419.40 L908.00,420.46 L910.00,421.52 L912.00,422.59 L914.00,423.66 L916.00,424.74 L918.00,425.82 L920.00,426.90 L922.00,427.99 L924.00,429.09 L926.00,430.18 L928.00,431.28 L930.00,432.39 L932.00,433.49 L934.00,434.60 L936.00,435.72 L938.00,436.83 L940.00,437.95 L942.00,439.07 L944.00,440.19 L946.00,441.32 L948.00,442.45 L950.00,443.58 L952.00,444.71 L954.00,445.85 L956.00,446.98 L958.00,448.12 L960.00,449.26 L962.00,450.40 L964.00,451.54 L966.00,452.68 L968.00,453.83 L970.00,454.97 L972.00,456.12 L974.00,457.26 L976.00,458.41 L978.00,459.55 L980.00,460.70 L982.00,461.85 L984.00,462.99 L986.00,464.14 L988.00,465.28 L990.00,466.43 L992.00,467.57 L994.00,468.72 L996.00,469.86 L998.00,471.00 L1000.00,472.14 L1002.00,473.28 L1004.00,474.42 L1006.00,475.55 L1008.00,476.69 L1010.00,477.82 L1012.00,478.95 L1014.00,480.08 L1016.00,481.21 L1018.00,482.33 L1020.00,483.45 L1022.00,484.57 L1024.00,485.69 L1026.00,486.80 L1028.00,487.91 L1030.00,489.02 L1032.00,490.12 L1034.00,491.22 L1036.00,492.32 L1038.00,493.41 L1040.00,494.50 L1042.00,495.59 L1044.00,496.67 L1046.00,497.75 L1048.00,498.82 L1050.00,499.89 L1052.00,500.95 L1054.00,502.01 L1056.00,503.07 L1058.00,504.12 L1060.00,505.16 L1062.00,506.20 L1064.00,507.23 L1066.00,508.26 L1068.00,509.29 L1070.00,510.30 L1072.00,511.31 L1074.00,512.32 L1076.00,513.32 L1078.00,514.31 L1080.00,515.30 L1082.00,516.28 L1084.00,517.26 L1086.00,518.23 L1088.00,519.19 L1090.00,520.15 L1092.00,521.10 L1094.00,522.05 L1096.00,522.99 L1098.00,523.92 L1100.00,524.85 L1102.00,525.77 L1104.00,526.69 L1106.00,527.60 L1108.00,528.50 L1110.00,529.40 L1112.00,530.29 L1114.00,531.18 L1116.00,532.06 L1118.00,532.93 L1120.00,533.80 L1122.00,534.66 L1124.00,535.52 L1126.00,536.37 L1128.00,537.21 L1130.00,538.05 L1132.00,538.88 L1134.00,539.70 L1136.00,540.52 L1138.00,541.34 L1140.00,542.14 L1142.00,542.94 L1144.00,543.74 L1146.00,544.53 L1148.00,545.31 L1150.00,546.08 L1152.00,546.85 L1154.00,547.62 L1156.00,548.37 L1158.00,549.12 L1160.00,549.87 L1162.00,550.61 L1164.00,551.34 L1166.00,552.06 L1168.00,552.78 L1170.00,553.50 L1172.00,554.20 L1174.00,554.90 L1176.00,555.60 L1178.00,556.29 L1180.00,556.97 L1182.00,557.64 L1184.00,558.31 L1186.00,558.97 L1188.00,559.63 L1190.00,560.28 L1192.00,560.92 L1194.00,561.56 L1196.00,562.19 L1198.00,562.82 L1200.00,563.43 L1202.00,564.04 L1204.00,564.65 L1206.00,565.25 L1208.00,565.84 L1210.00,566.43 L1212.00,567.00 L1214.00,567.58 L1216.00,568.14 L1218.00,568.70 L1220.00,569.26 L1222.00,569.80 L1224.00,570.34 L1226.00,570.88 L1228.00,571.40 L1230.00,571.92 L1232.00,572.44 L1234.00,572.95 L1236.00,573.45 L1238.00,573.94 L1240.00,574.43 L1242.00,574.91 L1244.00,575.38 L1246.00,575.85 L1248.00,576.31 L1250.00,576.77 L1252.00,577.22 L1254.00,577.66 L1256.00,578.09 L1258.00,578.52 L1260.00,578.94 L1262.00,579.36 L1264.00,579.77 L1266.00,580.17 L1268.00,580.56 L1270.00,580.95 L1272.00,581.33 L1274.00,581.71 L1276.00,582.07 L1278.00,582.43 L1280.00,582.79 L1282.00,583.14 L1284.00,583.48 L1286.00,583.81 L1288.00,584.14 L1290.00,584.46 L1292.00,584.77 L1294.00,585.08 L1296.00,585.38 L1298.00,585.67 L1300.00,585.96 L1302.00,586.24 L1304.00,586.51 L1306.00,586.78 L1308.00,587.04 L1310.00,587.29 L1312.00,587.54 L1314.00,587.78 L1316.00,588.02 L1318.00,588.25 L1320.00,588.47 L1322.00,588.69 L1324.00,588.90 L1326.00,589.11 L1328.00,589.31 L1330.00,589.51 L1332.00,589.70 L1334.00,589.88 L1336.00,590.06 L1338.00,590.23 L1340.00,590.40 L1342.00,590.57 L1344.00,590.73 L1346.00,590.88 L1348.00,591.03 L1350.00,591.17 L1352.00,591.31 L1354.00,591.45 L1356.00,591.58 L1358.00,591.71 L1360.00,591.83 L1362.00,591.95 L1364.00,592.06 L1366.00,592.17 L1368.00,592.27 L1370.00,592.38 L1372.00,592.47 L1374.00,592.57 L1376.00,592.66 L1378.00,592.75 L1380.00,592.83 L1382.00,592.91 L1384.00,592.98 L1386.00,593.06 L1388.00,593.13 L1390.00,593.19 L1392.00,593.26 L1394.00,593.32 L1396.00,593.38 L1398.00,593.43 L1400.00,593.48 L1402.00,593.53 L1404.00,593.58 L1406.00,593.62 L1408.00,593.67 L1410.00,593.71 L1412.00,593.74 L1414.00,593.78 L1416.00,593.81 L1418.00,593.84 L1420.00,593.87 L1422.00,593.90 L1424.00,593.92 L1426.00,593.95 L1428.00,593.97 L1430.00,593.99 L1432.00,594.01 L1434.00,594.03 L1436.00,594.04 L1438.00,594.06 L1440.00,594.07 L1442.00,594.08 L1444.00,594.10 L1446.00,594.11 L1448.00,594.12 L1450.00,594.13 L1452.00,594.13 L1454.00,594.14 L1456.00,594.15 L1458.00,594.16 L1460.00,594.16 L1462.00,594.17 L1464.00,594.18 L1466.00,594.18 L1468.00,594.19 L1470.00,594.19 L1472.00,594.20 L1474.00,594.21 L1476.00,594.21 L1478.00,594.22 L1480.00,594.23 L1482.00,594.23 L1484.00,594.24 L1486.00,594.25 L1488.00,594.26 L1490.00,594.27 L1492.00,594.28 L1494.00,594.29 L1496.00,594.31 L1498.00,594.32 L1500.00,594.34 L1502.00,594.35 L1504.00,594.37 L1506.00,594.39 L1508.00,594.41 L1510.00,594.44 L1512.00,594.46 L1514.00,594.49 L1516.00,594.52 L1518.00,594.55 L1520.00,594.58 L1522.00,594.61 L1524.00,594.65 L1526.00,594.69 L1528.00,594.73 L1530.00,594.77 L1532.00,594.82 L1534.00,594.87 L1536.00,594.92 L1538.00,594.97 L1540.00,595.03 L1542.00,595.09 L1544.00,595.15 L1546.00,595.22 L1548.00,595.28 L1550.00,595.36 L1552.00,595.43 L1554.00,595.51 L1556.00,595.59 L1558.00,595.68 L1560.00,595.76 L1562.00,595.86 L1564.00,595.95 L1566.00,596.05 L1568.00,596.16 L1570.00,596.27 L1572.00,596.38 L1574.00,596.49 L1576.00,596.61 L1578.00,596.74 L1580.00,596.87 L1582.00,597.00 L1584.00,597.14 L1586.00,597.28 L1588.00,597.43 L1590.00,597.58 L1592.00,597.74 L1594.00,597.90 L1596.00,598.07 L1598.00,598.24 L1600.00,598.42 L1602.00,598.60 L1604.00,598.79 L1606.00,598.98 L1608.00,599.18 L1610.00,599.38 L1612.00,599.59 L1614.00,599.81 L1616.00,600.03 L1618.00,600.26 L1620.00,600.49 L1622.00,600.73 L1624.00,600.97 L1626.00,601.23 L1628.00,601.48 L1630.00,601.75 L1632.00,602.02 L1634.00,602.30 L1636.00,602.58 L1638.00,602.87 L1640.00,603.17 L1642.00,603.47 L1644.00,603.78 L1646.00,604.10 L1648.00,604.42 L1650.00,604.76 L1652.00,605.10 L1654.00,605.44 L1656.00,605.80 L1658.00,606.16 L1660.00,606.53 L1662.00,606.90 L1664.00,607.29 L1666.00,607.68 L1668.00,608.08 L1670.00,608.49 L1672.00,608.90 L1674.00,609.33 L1676.00,609.76 L1678.00,610.20 L1680.00,610.65 L1682.00,611.11 L1684.00,611.57 L1686.00,612.05 L1686.80,612.24" fill="none" stroke="#0000ff" stroke-width="5.4" stroke-linejoin="round" stroke-linecap="butt"/>
<text class="g" x="142.80" y="1637" font-size="42" fill="#383838" letter-spacing="2.3">1600</text>
<text class="g" x="280.20" y="1637" font-size="42" fill="#383838" letter-spacing="2.3">1800</text>
<text class="g" x="412.59" y="1637" font-size="42" fill="#383838" letter-spacing="2.3">2000</text>
<text class="g" x="553.89" y="1637" font-size="42" fill="#383838" letter-spacing="2.3">2200</text>
<text class="g" x="690.69" y="1637" font-size="42" fill="#383838" letter-spacing="2.3">2400</text>
<text class="g" x="826.69" y="1637" font-size="42" fill="#383838" letter-spacing="2.3">2600</text>
<text class="g" x="964.69" y="1637" font-size="42" fill="#383838" letter-spacing="2.3">2800</text>
<text class="g" x="1102.70" y="1637" font-size="42" fill="#383838" letter-spacing="2.3">3000</text>
<text class="g" x="1240.80" y="1637" font-size="42" fill="#383838" letter-spacing="2.3">3200</text>
<text class="g" x="1377.80" y="1637" font-size="42" fill="#383838" letter-spacing="2.3">3400</text>
<text class="g" x="1514.40" y="1637" font-size="42" fill="#383838" letter-spacing="2.3">3600</text>
<text class="g" x="1652.00" y="1637" font-size="42" fill="#383838" letter-spacing="2.3">3800</text>
<text class="g" x="94.89" y="405.70" font-size="42" fill="#383838" letter-spacing="2.3">2.0</text>
<text class="g" x="95.26" y="855.60" font-size="42" fill="#383838" letter-spacing="2.3">0.0</text>
<text class="g" x="81.33" y="1300.70" font-size="42" fill="#383838" letter-spacing="2.3">-2.0</text>
<text class="g" x="1707.89" y="290.40" font-size="42" fill="#383838" letter-spacing="2.3">2.0</text>
<text class="g" x="1708.80" y="572.60" font-size="42" fill="#383838" letter-spacing="2.3">1.0</text>
<text class="g" x="1710.46" y="854.00" font-size="42" fill="#383838" letter-spacing="2.3">0.0</text>
<text class="g" x="1708.73" y="1135.20" font-size="42" fill="#383838" letter-spacing="2.3">-1.0</text>
<text class="g" x="1708.73" y="1419.10" font-size="42" fill="#383838" letter-spacing="2.3">-2.0</text>
<text x="806.4" y="107.3" font-size="53" fill="#000">ECD</text>
<text x="1247.2" y="420.9" font-size="41.7" fill="#0000ff">Avg. low-spin</text>
<text x="1245.0" y="684.3" font-size="42" fill="#111">Exp. ECD</text>
<text x="1246.6" y="1031.3" font-size="41.7" fill="#ff0000">Avg. high-spin</text>
<text class="g" x="770" y="1708" font-size="42" fill="#383838" letter-spacing="1.5">Wavenumber / cm<tspan font-size="28" dy="-15">-1</tspan></text>
<text class="g" transform="translate(38.4,971.3) rotate(-90)" fill="#383838"><tspan x="-0.50" y="0.00" font-size="40">&#916;</tspan><tspan x="30.20" y="0.00" font-size="40">A</tspan><tspan x="57.35" y="0.00" font-size="40">x</tspan><tspan x="90.45" y="0.00" font-size="40">1</tspan><tspan x="113.40" y="0.00" font-size="40">0</tspan><tspan x="137.00" y="-9.00" font-size="28">-</tspan><tspan x="147.80" y="-9.00" font-size="28">4</tspan><tspan x="175.20" y="0.00" font-size="40">/</tspan><tspan x="197.60" y="0.00" font-size="40">a</tspan><tspan x="219.85" y="0.00" font-size="40">.</tspan><tspan x="232.80" y="0.00" font-size="40">u</tspan><tspan x="255.85" y="0.00" font-size="40">.</tspan></text>
<text class="g" transform="translate(1847.8,927.6) rotate(-90)" fill="#383838"><tspan x="-1.25" y="0.00" font-size="42">&#916;</tspan><tspan x="26.06" y="0.00" font-size="42">&#949;</tspan><tspan x="55.00" y="0.00" font-size="42">/</tspan><tspan x="76.65" y="0.00" font-size="42">M</tspan><tspan x="112.70" y="-9.00" font-size="29">-</tspan><tspan x="123.60" y="-9.00" font-size="29">1</tspan><tspan x="151.90" y="0.00" font-size="42">c</tspan><tspan x="172.80" y="0.00" font-size="42">m</tspan><tspan x="205.80" y="-9.00" font-size="29">-</tspan><tspan x="217.90" y="-9.00" font-size="29">1</tspan></text>
</g></svg></body></html>
